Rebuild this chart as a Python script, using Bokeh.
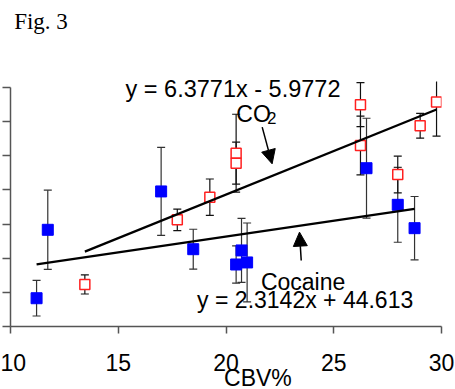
from bokeh.plotting import figure
from bokeh.models import Range1d, FixedTicker, Label, Arrow, NormalHead
from bokeh.embed import file_html
from bokeh.resources import INLINE

# Cocaine (filled blue squares)
coc_x = [11.21, 11.73, 16.99, 18.48, 20.47, 20.72, 20.98, 26.52, 27.97, 28.75]
coc_y = [45.7, 95.8, 123.9, 81.6, 70.4, 80.7, 71.9, 140.9, 114.1, 97.0]
coc_err = [13.0, 29.0, 32.2, 14.6, 13.7, 23.4, 28.9, 36.6, 27.4, 23.2]

# CO2 (open red squares)
co2_x = [13.45, 17.74, 19.25, 20.47, 20.47, 26.24, 26.24, 27.97, 29.01, 29.77]
co2_y = [55.8, 103.1, 119.7, 151.9, 144.6, 187.4, 157.5, 136.3, 172.0, 189.3]
co2_err = [7.0, 7.9, 13.3, 28.5, 15.4, 16.1, 21.5, 13.4, 9.1, 24.9]

# regression fits (as printed)
co2_slope, co2_int = 6.3771, -5.9772
coc_slope, coc_int = 2.3142, 44.613

x_ticks = [10, 15, 20, 25, 30]
x_tick_labels = ["10", "15", "20", "25", "30"]
y_ticks = [25, 50, 75, 100, 125, 150, 175, 200]
y_clip = 204.4  # top of the original plotting area (error bars cut here)

SANS = "Liberation Sans"
FS = "23px"

p = figure(width=455, height=396, output_backend="svg", toolbar_location=None,
           x_range=Range1d(10, 30), y_range=Range1d(25, 263.7),
           min_border_left=10, min_border_right=14, min_border_top=0, min_border_bottom=70)
p.outline_line_color = None
p.xgrid.visible = False
p.ygrid.visible = False
p.background_fill_color = "white"

ax_col = "#555555"
xa = p.xaxis[0]
xa.ticker = FixedTicker(ticks=x_ticks)
xa.major_label_overrides = {t: l for t, l in zip(x_ticks, x_tick_labels)}
xa.major_label_text_font = SANS
xa.major_label_text_font_size = FS
xa.major_label_text_color = "black"
xa.major_label_standoff = 20
xa.major_tick_in = 0
xa.major_tick_out = 7
xa.minor_tick_out = 0
xa.minor_tick_in = 0
xa.axis_line_color = ax_col
xa.major_tick_line_color = ax_col
xa.axis_line_width = 1.5
xa.major_tick_line_width = 1.5
xa.axis_label = "\u00a0" * 10 + "CBV%"
xa.axis_label_text_font = SANS
xa.axis_label_text_font_size = FS
xa.axis_label_text_font_style = "normal"
xa.axis_label_text_color = "black"
xa.axis_label_standoff = -9

ya = p.yaxis[0]
ya.ticker = FixedTicker(ticks=y_ticks)
ya.bounds = (25, 200)
ya.major_label_overrides = {t: "" for t in y_ticks}
ya.major_label_standoff = 0
ya.major_tick_in = 0
ya.major_tick_out = 8
ya.minor_tick_out = 0
ya.minor_tick_in = 0
ya.axis_line_color = ax_col
ya.major_tick_line_color = ax_col
ya.axis_line_width = 1.5
ya.major_tick_line_width = 1.5

def errbars(xs, ys, es, color):
    lo = [y - e for y, e in zip(ys, es)]
    hi_raw = [y + e for y, e in zip(ys, es)]
    hi = [min(h, y_clip) for h in hi_raw]
    p.segment(x0=xs, y0=lo, x1=xs, y1=hi, line_color=color, line_width=1.2)
    cap_x = xs + [x for x, h in zip(xs, hi_raw) if h <= y_clip]
    cap_y = lo + [h for h in hi_raw if h <= y_clip]
    p.scatter(x=cap_x, y=cap_y, marker="dash", size=8, line_color=color, line_width=1.2)

errbars(coc_x, coc_y, coc_err, "#333333")
errbars(co2_x, co2_y, co2_err, "#111111")

p.scatter(x=coc_x, y=coc_y, marker="square", size=11, fill_color="#0000ff", line_color="#0000ff")
p.scatter(x=co2_x, y=co2_y, marker="square", size=10, fill_color="white", line_color="#ff2020", line_width=1.5)

cx = [min(co2_x), max(co2_x)]
p.line(x=cx, y=[co2_slope * v + co2_int for v in cx], line_color="black", line_width=2.3)
kx = [min(coc_x), max(coc_x)]
p.line(x=kx, y=[coc_slope * v + coc_int for v in kx], line_color="black", line_width=2.3)

p.add_layout(Arrow(x_start=21.68, y_start=171.0, x_end=22.14, y_end=144.1, line_width=1.5,
                   end=NormalHead(size=14, fill_color="black", line_color="black")))
p.add_layout(Arrow(x_start=23.49, y_start=73.3, x_end=23.41, y_end=94.1, line_width=1.5,
                   end=NormalHead(size=14, fill_color="black", line_color="black")))

def lab(x, y, t, size=FS, font=SANS):
    p.add_layout(Label(x=x, y=y, text=t, text_font=font, text_font_size=size,
                       text_color="black", text_baseline="alphabetic", text_align="left"))

lab(15.34, 199.0, "y = 6.3771x - 5.9772", size="23.5px")
lab(20.48, 180.3, "CO")
lab(21.91, 177.6, "2", size="16.5px")
lab(21.62, 57.5, "Cocaine")
lab(18.66, 44.5, "y = 2.3142x + 44.613")
lab(10.17, 248.3, "Fig. 3", size="23px", font="Liberation Serif")

open("out.html", "w").write(file_html(p, INLINE))
